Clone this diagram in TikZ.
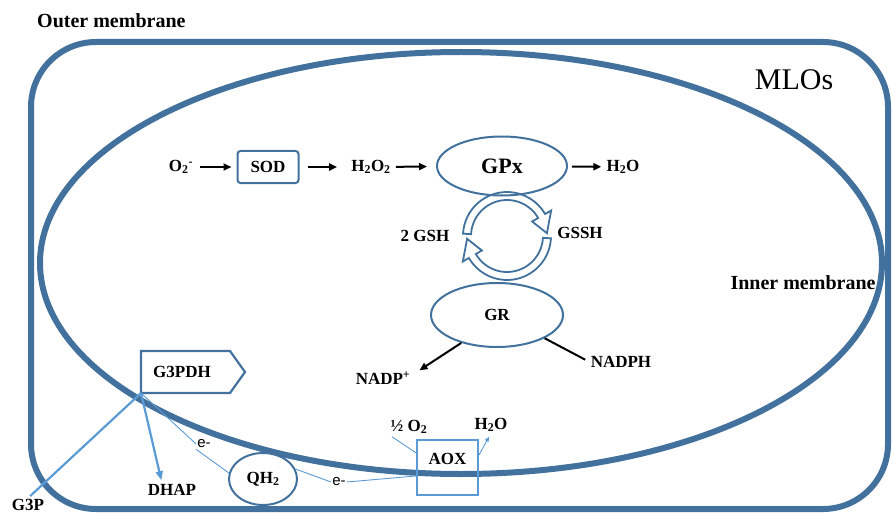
\documentclass[tikz,border=0pt]{standalone}
\usepackage{fontspec}
\setmainfont{Liberation Serif}
\newfontfamily\efont{Liberation Sans}
\usetikzlibrary{arrows.meta,calc,shapes.geometric}
\definecolor{memb}{HTML}{41719C}
\definecolor{lblue}{HTML}{5B9BD5}
\begin{document}
\begin{tikzpicture}[x=1pt,y=-1pt,
  lbl/.style={font=\fontsize{17}{20}\selectfont\bfseries, inner sep=1pt},
  biglbl/.style={font=\fontsize{20}{22}\selectfont\bfseries, inner sep=1pt},
  elbl/.style={font=\efont\fontsize{15}{17}\selectfont, inner sep=1pt},
  blk/.style={draw=black, line width=2pt, -{Triangle[length=8pt,width=7pt]}},
  enz/.style={draw=memb, line width=2pt, ellipse, inner sep=0pt},
  wire/.style={draw=lblue, line width=0.9pt},
  thickblue/.style={draw=lblue, line width=2.2pt},
  ringarrow/.style={draw=memb, line width=1.8pt, line join=miter}
]
\useasboundingbox (0,0) rectangle (893,513);
% membranes
\draw[memb, line width=6pt, rounded corners=65pt] (31,42) rectangle (888,509);
\draw[memb, line width=6pt] (461,263) ellipse [x radius=421, y radius=211];
\node[biglbl, anchor=west] (outer) at (36,21) {Outer membrane};
\node[biglbl] (inner) at (803,283) {Inner membrane};
\node[font=\fontsize{30}{32}\selectfont, inner sep=1pt] (mlos) at (794,80) {MLOs};
% top row
\node[lbl] (o2) at (181,167) {O\textsubscript{2}\textsuperscript{-}};
\node[lbl, draw=memb, line width=2pt, rounded corners=3pt, minimum width=61pt, minimum height=32pt] (sod) at (268,167) {SOD};
\node[lbl] (h2o2) at (371,167) {H\textsubscript{2}O\textsubscript{2}};
\node[enz, minimum width=130pt, minimum height=59pt, font=\fontsize{22}{24}\selectfont\bfseries] (gpx) at (502,166) {GPx};
\node[lbl] (h2o) at (623,167) {H\textsubscript{2}O};
\draw[blk, shorten <=6pt, shorten >=5pt] (o2) -- (sod);
\draw[blk, shorten <=8pt, shorten >=13pt] (sod) -- (h2o2);
\draw[blk, shorten <=4pt, shorten >=9pt] (h2o2) -- (gpx);
\draw[blk, shorten <=4pt, shorten >=4pt] (gpx) -- (h2o);
% GR
\node[enz, minimum width=132pt, minimum height=64pt, font=\fontsize{17}{20}\selectfont\bfseries] (gr) at (497,315) {GR};
\node[lbl] (nadp) at (383,378) {NADP\textsuperscript{+}};
\node[lbl] (nadph) at (621,362) {NADPH};
\draw[blk] (gr.218) -- ($(nadp.north east)+(8,0)$);
\draw[black, line width=2pt, shorten >=5pt] (gr.334) -- (nadph.west);
% glutathione cycle
\node[lbl] (gsh) at (425,236) {2 GSH};
\node[lbl] (gssh) at (580,233) {GSSH};
\begin{scope}[shift={(507,236)}]
\draw[ringarrow] (183:44) arc[start angle=183, end angle=330, radius=44] -- (330:51) -- (356:40) -- (330:29) -- (330:36) arc[start angle=330, end angle=183, radius=36] -- cycle;
\draw[ringarrow] (3:44) arc[start angle=3, end angle=150, radius=44] -- (150:51) -- (176:40) -- (150:29) -- (150:36) arc[start angle=150, end angle=3, radius=36] -- cycle;
\end{scope}
% G3PDH
\draw[memb, line width=2.2pt, line join=miter] (141,351) -- (230,351) -- (245,372) -- (230,393) -- (141,393) -- cycle;
\node[lbl] (g3pdh) at (182,372) {G3PDH};
\coordinate (g3) at (141,393);
\node[lbl] (g3p) at (28,505) {G3P};
\node[lbl] (dhap) at (172,490) {DHAP};
\draw[thickblue, shorten >=3pt] (g3) -- (g3p.north);
\draw[thickblue, -{Triangle[length=9pt,width=7pt]}, shorten >=3pt] (g3) -- ($(dhap.north)+(-10,0)$);
% electron path
\node[elbl] (e1) at (204,444) {e-};
\node[enz, minimum width=68pt, minimum height=52pt, font=\fontsize{17}{20}\selectfont\bfseries] (qh2) at (263,479) {QH\textsubscript{2}};
\node[elbl] (e2) at (339,482) {e-};
\node[thickblue, draw, minimum width=61pt, minimum height=55pt, inner sep=0pt] (aox) at (447.5,467.5) {};
\node[lbl] (aoxt) at ($(aox.center)+(0,-9)$) {AOX};
\node[lbl] (halfo) at (409,427) {½ O\textsubscript{2}};
\node[lbl] (h2ob) at (491,425) {H\textsubscript{2}O};
\draw[wire] (g3) -- (e1.west);
\draw[wire] (e1.south west) -- (qh2.170);
\draw[wire] (qh2.17) -- (e2.west);
\draw[wire] (e2.east) -- (aox.195);
\draw[wire, shorten <=3pt] (halfo.south west) -- (aox.155);
\draw[wire, -{Triangle[length=5pt,width=4pt]}, shorten >=4pt] (aox.22) -- (h2ob.south);
\end{tikzpicture}
\end{document}
